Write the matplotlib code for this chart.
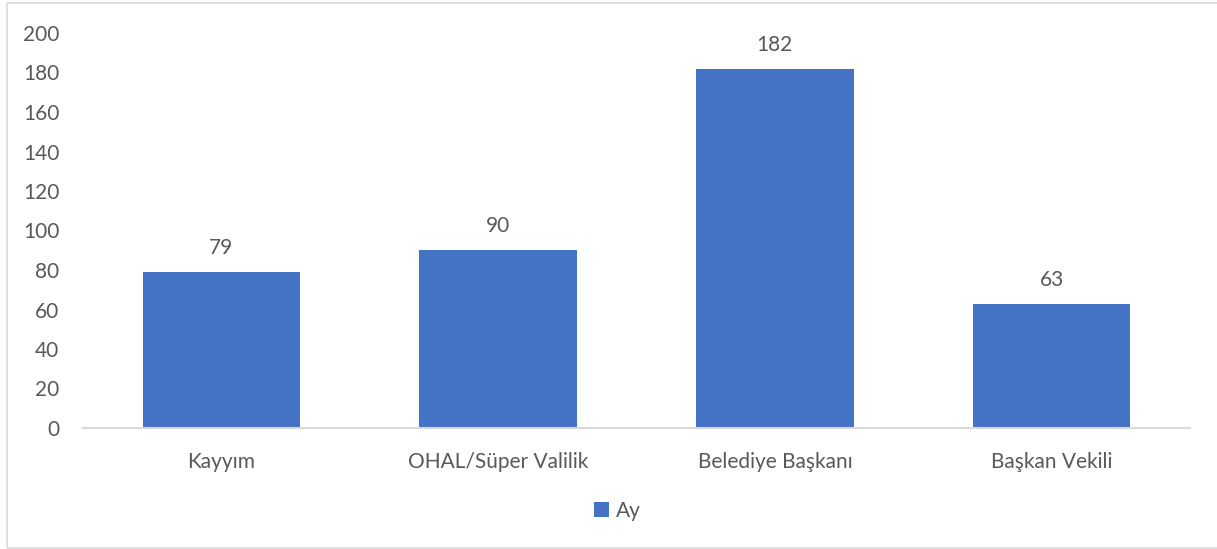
import matplotlib.pyplot as plt
from matplotlib.patches import Rectangle

categories = ['Kayyım', 'OHAL/Süper Valilik', 'Belediye Başkanı', 'Başkan Vekili']
values = [79, 90, 182, 63]
series_name = 'Ay'

plt.rcParams['font.family'] = ['Lato', 'DejaVu Sans']
text_col = '#595959'
bar_col = '#4472C4'
fs = 15

fig = plt.figure(figsize=(12.17, 5.49), dpi=100)
fig.patches.append(Rectangle((7 / 1217, 0.002), 1.2, 0.992, transform=fig.transFigure,
                             fill=False, edgecolor='#D9D9D9', linewidth=1.2))

ax = fig.add_axes([83 / 1217, 1 - 428 / 549, (1190 - 83) / 1217, (428 - 33) / 549])
x = range(len(categories))
bars = ax.bar(x, values, width=0.57, color=bar_col, label=series_name)

for b, v in zip(bars, values):
    ax.text(b.get_x() + b.get_width() / 2, v + 7, str(v), ha='center', va='bottom',
            fontsize=fs, color=text_col)

ax.set_xlim(-0.5, len(categories) - 0.5)
ax.set_ylim(0, 200)
ax.set_yticks(range(0, 201, 20))
ax.set_xticks(list(x))
ax.set_xticklabels(categories)
ax.tick_params(axis='both', length=0, labelsize=fs, colors=text_col)
ax.tick_params(axis='x', pad=17)
ax.tick_params(axis='y', pad=17)

for s in ['top', 'right', 'left']:
    ax.spines[s].set_visible(False)
ax.spines['bottom'].set_color('#D9D9D9')
ax.spines['bottom'].set_linewidth(1.5)

fig.legend(loc='center', bbox_to_anchor=(617 / 1217, 1 - 511 / 549), frameon=False,
           fontsize=fs, labelcolor=text_col, handlelength=0.75, handleheight=0.75,
           handletextpad=0.3)

fig.savefig('out.png', dpi=100)
